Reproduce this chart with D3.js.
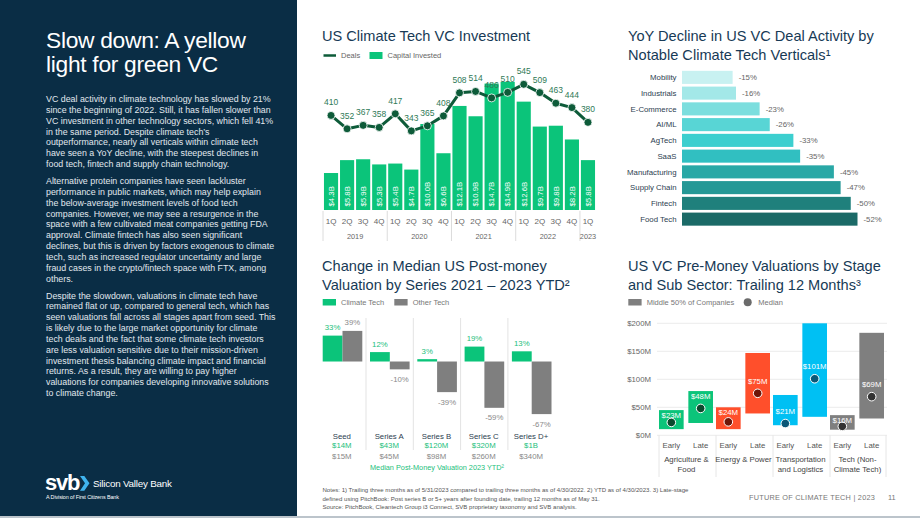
<!DOCTYPE html>
<html>
<head>
<meta charset="utf-8">
<script src="https://cdn.jsdelivr.net/npm/d3@7"></script>
<style>
html, body {margin: 0; padding: 0; background: #fff;}
svg text {font-family: "Liberation Sans", Arial, sans-serif;}
</style>
</head>
<body>
<svg id="chart" width="920" height="518"></svg>
<script>
// ---- data: US Climate Tech VC Investment
const quarters = ['1Q','2Q','3Q','4Q','1Q','2Q','3Q','4Q','1Q','2Q','3Q','4Q','1Q','2Q','3Q','4Q','1Q'];
const years = ['2019','2020','2021','2022','2023'];
const capitalInvested = [4.3, 5.8, 5.9, 5.3, 5.4, 4.7, 10.0, 6.6, 12.1, 10.9, 14.7, 14.9, 12.6, 9.7, 9.8, 8.2, 5.8];
const deals = [410, 352, 367, 358, 417, 343, 365, 408, 508, 514, 486, 510, 545, 509, 463, 444, 380];

// ---- data: YoY decline by vertical
const verticals = ['Mobility','Industrials','E-Commerce','AI/ML','AgTech','SaaS','Manufacturing','Supply Chain','Fintech','Food Tech'];
const yoyDecline = [-15, -16, -23, -26, -33, -35, -45, -47, -50, -52];

// ---- data: change in median post-money valuation
const series = ['Seed','Series A','Series B','Series C','Series D+'];
const climateChange = [33, 12, 3, 19, 13];
const otherChange = [39, -10, -39, -59, -67];
const climateMedian = ['$14M','$43M','$120M','$320M','$1B'];
const otherMedian = ['$15M','$45M','$98M','$260M','$340M'];

// ---- data: pre-money valuations by stage and sub sector
const sectors = ['Agriculture & Food','Energy & Power','Transportation and Logistics','Tech (Non-Climate Tech)'];
const sectorLabels = [['Agriculture &','Food'],['Energy & Power'],['Transportation','and Logistics'],['Tech (Non-','Climate Tech)']];
const stages = ['Early','Late'];
const valLow = [11, 22, 11, 39, 18, 33, 10, 30];
const valHigh = [45, 79, 50, 147, 72, 200, 36, 183];
const valMedian = [23, 48, 24, 75, 21, 101, 16, 69];
const valTicks = [0, 50, 100, 150, 200];

// ---- style
const navy = '#0a2d45';
const titleColor = '#173a56';
const green = '#0bc47a';
const darkGreen = '#0d5b39';
const gray = '#7f7f7f';
const tealShades = ['#c8f1f1','#a3e8e8','#7cdede','#58d5d5','#3ccfcf','#31bfc1','#29a8a6','#259896','#1f807c','#1b6a67'];
const sectorFill = ['#0bc47a','#ff4f2b','#00c0f3','#7f7f7f'];
const sectorDot = ['#0b4a2e','#6e1508','#0a5878','#333333'];

const svg = d3.select('#chart');

// ================= left panel
svg.append('rect').attr('x', 0).attr('y', 0).attr('width', 297).attr('height', 516).attr('fill', navy);

const headline = ['Slow down: A yellow', 'light for green VC'];
svg.append('g').selectAll('text').data(headline).enter().append('text')
    .attr('x', 46).attr('y', (d, i) => 47.5 + i * 24.5)
    .attr('fill', '#fff').attr('font-size', 22.8).attr('letter-spacing', -0.3)
    .text(d => d);

const paragraphs = [
    ['VC deal activity in climate technology has slowed by 21%',
     'since the beginning of 2022. Still, it has fallen slower than',
     'VC investment in other technology sectors, which fell 41%',
     'in the same period. Despite climate tech\u2019s',
     'outperformance, nearly all verticals within climate tech',
     'have seen a YoY decline, with the steepest declines in',
     'food tech, fintech and supply chain technology.'],
    ['Alternative protein companies have seen lackluster',
     'performance in public markets, which may help explain',
     'the below-average investment levels of food tech',
     'companies. However, we may see a resurgence in the',
     'space with a few cultivated meat companies getting FDA',
     'approval. Climate fintech has also seen significant',
     'declines, but this is driven by factors exogenous to climate',
     'tech, such as increased regulator uncertainty and large',
     'fraud cases in the crypto/fintech space with FTX, among',
     'others.'],
    ['Despite the slowdown, valuations in climate tech have',
     'remained flat or up, compared to general tech, which has',
     'seen valuations fall across all stages apart from seed. This',
     'is likely due to the large market opportunity for climate',
     'tech deals and the fact that some climate tech investors',
     'are less valuation sensitive due to their mission-driven',
     'investment thesis balancing climate impact and financial',
     'returns. As a result, they are willing to pay higher',
     'valuations for companies developing innovative solutions',
     'to climate change.']
];
const paraTop = [102, 184, 298.5];
paragraphs.forEach((lines, p) => {
    svg.append('g').selectAll('text').data(lines).enter().append('text')
        .attr('x', 46).attr('y', (d, i) => paraTop[p] + i * 10.85)
        .attr('fill', '#e1e8ee').attr('font-size', 8.85)
        .text(d => d);
});

// logo
svg.append('text').attr('x', 45).attr('y', 490).attr('fill', '#fff')
    .attr('font-size', 22).attr('font-weight', 'bold').attr('letter-spacing', -1.2).text('svb');
svg.append('path').attr('d', 'M80,476 L84.3,476 L89.5,483.3 L84.3,490.7 L80,490.7 L85,483.3 Z').attr('fill', '#3fb4ef');
svg.append('text').attr('x', 93).attr('y', 486.5).attr('fill', '#fff')
    .attr('font-size', 9.8).attr('letter-spacing', -0.2).text('Silicon Valley Bank');
svg.append('text').attr('x', 46).attr('y', 499).attr('fill', '#fff')
    .attr('font-size', 5.4).attr('letter-spacing', -0.1).text('A Division of First Citizens Bank');

// ================= helpers
function title(lines, x, y0) {
    svg.append('g').selectAll('text').data(lines).enter().append('text')
        .attr('x', x).attr('y', (d, i) => y0 + i * 18.6)
        .attr('fill', titleColor).attr('font-size', 14.6)
        .text(d => d);
}

// ================= chart 1: US Climate Tech VC Investment
title(['US Climate Tech VC Investment'], 322, 41);

const lg1 = svg.append('g').attr('font-size', 7.5).attr('fill', '#666');
lg1.append('line').attr('x1', 323.5).attr('x2', 336).attr('y1', 55.5).attr('y2', 55.5)
    .attr('stroke', darkGreen).attr('stroke-width', 2.5);
lg1.append('text').attr('x', 341).attr('y', 58).text('Deals');
lg1.append('rect').attr('x', 369.5).attr('y', 52).attr('width', 13).attr('height', 7).attr('fill', green);
lg1.append('text').attr('x', 387.5).attr('y', 58).text('Capital Invested');

const x1 = d3.scaleBand().domain(d3.range(capitalInvested.length)).range([323, 596])
    .paddingInner(0.12).paddingOuter(0.06);
const yCap = d3.scaleLinear().domain([0, 15]).range([210, 81]);
const yDeals = d3.scaleLinear().domain([0, 545]).range([210, 84.3]);
const bw1 = x1.bandwidth();

const c1 = svg.append('g');
c1.selectAll('.bar').data(capitalInvested).enter().append('rect')
    .attr('x', (d, i) => x1(i)).attr('y', d => yCap(d))
    .attr('width', bw1).attr('height', d => yCap(0) - yCap(d))
    .attr('fill', green);
c1.selectAll('.blab').data(capitalInvested).enter().append('text')
    .attr('transform', (d, i) => `translate(${x1(i) + bw1 / 2 + 2.8},206.5) rotate(-90)`)
    .attr('fill', '#fff').attr('font-size', 7.8)
    .text(d => '$' + d.toFixed(1) + 'B');

// x axis: quarters and years
c1.selectAll('.q').data(quarters).enter().append('text')
    .attr('x', (d, i) => x1(i) + bw1 / 2).attr('y', 224)
    .attr('text-anchor', 'middle').attr('fill', '#666').attr('font-size', 8)
    .text(d => d);
const gapHalf = x1.step() * 0.06;
years.forEach((yr, k) => {
    const first = k * 4, last = Math.min(k * 4 + 3, quarters.length - 1);
    const left = x1(first) - gapHalf;
    c1.append('line').attr('x1', left).attr('x2', left).attr('y1', 211).attr('y2', 241)
        .attr('stroke', '#dcdcdc').attr('stroke-width', 1);
    c1.append('text').attr('x', (x1(first) + x1(last) + bw1) / 2).attr('y', 238.5)
        .attr('text-anchor', 'middle').attr('fill', '#666').attr('font-size', 7.3)
        .text(yr);
});

// deals line
const dealLine = d3.line().x((d, i) => x1(i) + bw1 / 2).y(d => yDeals(d));
c1.append('path').datum(deals).attr('d', dealLine)
    .attr('fill', 'none').attr('stroke', darkGreen).attr('stroke-width', 3).attr('stroke-linejoin', 'round');
c1.selectAll('.dot').data(deals).enter().append('circle')
    .attr('cx', (d, i) => x1(i) + bw1 / 2).attr('cy', d => yDeals(d)).attr('r', 4)
    .attr('fill', darkGreen).attr('stroke', '#fff').attr('stroke-width', 0.8);
c1.selectAll('.dlab').data(deals).enter().append('text')
    .attr('x', (d, i) => x1(i) + bw1 / 2).attr('y', d => yDeals(d) - 10)
    .attr('text-anchor', 'middle').attr('fill', '#2f7a57').attr('font-size', 8.5)
    .text(d => d);

// ================= chart 2: YoY decline by vertical
title(['YoY Decline in US VC Deal Activity by', 'Notable Climate Tech Verticals\u00b9'], 628, 41);

const yV = d3.scaleBand().domain(verticals).range([69.5, 227]).paddingInner(0.17).paddingOuter(0.085);
const xV = d3.scaleLinear().domain([0, 52]).range([682, 857.5]);
const c2 = svg.append('g');
c2.selectAll('rect').data(yoyDecline).enter().append('rect')
    .attr('x', xV(0)).attr('y', (d, i) => yV(verticals[i]))
    .attr('width', d => xV(-d) - xV(0)).attr('height', yV.bandwidth())
    .attr('fill', (d, i) => tealShades[i]);
c2.selectAll('.cat').data(verticals).enter().append('text')
    .attr('x', 676.5).attr('y', d => yV(d) + yV.bandwidth() / 2 + 2.8)
    .attr('text-anchor', 'end').attr('fill', '#2c3e50').attr('font-size', 7.8)
    .text(d => d);
c2.selectAll('.val').data(yoyDecline).enter().append('text')
    .attr('x', d => xV(-d) + 6).attr('y', (d, i) => yV(verticals[i]) + yV.bandwidth() / 2 + 2.8)
    .attr('fill', '#666').attr('font-size', 7.8)
    .text(d => d + '%');

// ================= chart 3: change in median post-money valuation
title(['Change in Median US Post-money', 'Valuation by Series 2021 \u2013 2023 YTD\u00b2'], 322, 271);

const lg3 = svg.append('g').attr('font-size', 7.5).attr('fill', '#777');
lg3.append('rect').attr('x', 322.7).attr('y', 299).attr('width', 13.3).attr('height', 6.5).attr('fill', green);
lg3.append('text').attr('x', 341).attr('y', 305).text('Climate Tech');
lg3.append('rect').attr('x', 394.3).attr('y', 299).attr('width', 13.3).attr('height', 6.5).attr('fill', gray);
lg3.append('text').attr('x', 412.7).attr('y', 305).text('Other Tech');

const xS = d3.scaleBand().domain(series).range([318.7, 555.2]);
const xSub = d3.scaleBand().domain(['climate', 'other']).range([4, 43.6]);
const yS = d3.scaleLinear().domain([-67, 39]).range([414.1, 330.9]);
const c3 = svg.append('g');

series.forEach((s, i) => {
    if (i > 0) {
        c3.append('line').attr('x1', xS(s)).attr('x2', xS(s)).attr('y1', 318).attr('y2', 450)
            .attr('stroke', '#e3e3e3').attr('stroke-width', 1);
    }
});

function changeBars(values, key, fill, labelColor) {
    const bw = xSub.bandwidth();
    c3.selectAll('.b-' + key).data(values).enter().append('rect')
        .attr('x', (d, i) => xS(series[i]) + xSub(key))
        .attr('y', d => Math.min(yS(d), yS(0)))
        .attr('width', bw).attr('height', d => Math.abs(yS(d) - yS(0)))
        .attr('fill', fill);
    c3.selectAll('.l-' + key).data(values).enter().append('text')
        .attr('x', (d, i) => xS(series[i]) + xSub(key) + bw / 2)
        .attr('y', d => d >= 0 ? yS(d) - 5.5 : yS(d) + 12.5)
        .attr('text-anchor', 'middle').attr('fill', labelColor).attr('font-size', 7.8)
        .text(d => d + '%');
}
changeBars(climateChange, 'climate', green, '#23c07c');
changeBars(otherChange, 'other', gray, '#8a8a8a');

const gc = d => xS(d) + xS.bandwidth() / 2 - 0.5;
c3.selectAll('.sn').data(series).enter().append('text')
    .attr('x', gc).attr('y', 438.5).attr('text-anchor', 'middle')
    .attr('fill', '#2c3e50').attr('font-size', 7.8).text(d => d);
c3.selectAll('.cm').data(climateMedian).enter().append('text')
    .attr('x', (d, i) => gc(series[i])).attr('y', 447.5).attr('text-anchor', 'middle')
    .attr('fill', '#23c07c').attr('font-size', 7.8).text(d => d);
c3.selectAll('.om').data(otherMedian).enter().append('text')
    .attr('x', (d, i) => gc(series[i])).attr('y', 459).attr('text-anchor', 'middle')
    .attr('fill', '#888').attr('font-size', 7.8).text(d => d);
c3.append('text').attr('x', 437).attr('y', 469.5).attr('text-anchor', 'middle')
    .attr('fill', '#23c07c').attr('font-size', 7.3).text('Median Post-Money Valuation 2023 YTD\u00b2');

// ================= chart 4: pre-money valuations
title(['US VC Pre-Money Valuations by Stage', 'and Sub Sector: Trailing 12 Months\u00b3'], 628, 271);

const lg4 = svg.append('g').attr('font-size', 7.5).attr('fill', '#777');
lg4.append('rect').attr('x', 628.3).attr('y', 299).attr('width', 13.3).attr('height', 6.5).attr('fill', gray);
lg4.append('text').attr('x', 646.7).attr('y', 305).text('Middle 50% of Companies');
lg4.append('circle').attr('cx', 747.7).attr('cy', 302.3).attr('r', 4).attr('fill', '#6b6b6b');
lg4.append('text').attr('x', 758.3).attr('y', 305).text('Median');

const xSec = d3.scaleBand().domain(sectors).range([659, 887]);
const xStage = d3.scaleBand().domain(stages).range([0, 54]).paddingInner(0.16);
const yM = d3.scaleLinear().domain([0, 200]).range([435.3, 323.3]);
const c4 = svg.append('g');

c4.selectAll('.grid').data(valTicks).enter().append('line')
    .attr('x1', 657).attr('x2', 887).attr('y1', d => yM(d)).attr('y2', d => yM(d))
    .attr('stroke', '#ececec').attr('stroke-width', 1);
c4.selectAll('.tick').data(valTicks).enter().append('text')
    .attr('x', 651).attr('y', d => yM(d) + 2.8).attr('text-anchor', 'end')
    .attr('fill', '#666').attr('font-size', 7.8).text(d => '$' + d + 'M');

const sepX = sectors.map(s => xSec(s)).concat([xSec.range()[1] - 1]);
c4.selectAll('.sep').data(sepX).enter().append('line')
    .attr('x1', d => d).attr('x2', d => d).attr('y1', 435.3).attr('y2', 477)
    .attr('stroke', '#e6e6e6').attr('stroke-width', 1);

const barX = i => xSec(sectors[Math.floor(i / 2)]) + xStage(stages[i % 2]);
const bw4 = xStage.bandwidth();
c4.selectAll('.rng').data(valHigh).enter().append('rect')
    .attr('x', (d, i) => barX(i)).attr('y', d => yM(d))
    .attr('width', bw4).attr('height', (d, i) => yM(valLow[i]) - yM(d))
    .attr('fill', (d, i) => sectorFill[Math.floor(i / 2)]);
c4.selectAll('.med').data(valMedian).enter().append('circle')
    .attr('cx', (d, i) => barX(i) + bw4 / 2).attr('cy', d => yM(d)).attr('r', 4.3)
    .attr('fill', (d, i) => sectorDot[Math.floor(i / 2)]).attr('stroke', '#fff').attr('stroke-width', 1);
c4.selectAll('.mlab').data(valMedian).enter().append('text')
    .attr('x', (d, i) => barX(i) + bw4 / 2)
    .attr('y', (d, i) => Math.max(yM(d) - 9.5, yM(valHigh[i]) + 8))
    .attr('text-anchor', 'middle').attr('fill', '#fff').attr('font-size', 7.8)
    .text(d => '$' + d + 'M');

c4.selectAll('.stg').data(d3.range(valMedian.length)).enter().append('text')
    .attr('x', i => barX(i) + bw4 / 2).attr('y', 448)
    .attr('text-anchor', 'middle').attr('fill', '#555').attr('font-size', 7.8)
    .text(i => stages[i % 2]);
sectors.forEach((s, k) => {
    c4.append('g').selectAll('text').data(sectorLabels[k]).enter().append('text')
        .attr('x', xSec(s) + 27.5).attr('y', (d, j) => 462 + j * 9.8)
        .attr('text-anchor', 'middle').attr('fill', '#444').attr('font-size', 7.8)
        .text(d => d);
});

// ================= footer
const notes = [
    'Notes: 1) Trailing three months as of 5/31/2023 compared to trailing  three months as of 4/30/2022. 2) YTD as of 4/30/2023. 3) Late-stage',
    'defined using PitchBook: Post series B or 5+ years after founding date, trailing 12 months as of May 31.',
    'Source: PitchBook, Cleantech Group i3 Connect, SVB proprietary taxonomy and SVB analysis.'
];
svg.append('g').selectAll('text').data(notes).enter().append('text')
    .attr('x', 322.5).attr('y', (d, i) => 492 + i * 8.7)
    .attr('fill', '#555').attr('font-size', 6.05).text(d => d);
svg.append('text').attr('x', 749).attr('y', 500).attr('fill', '#777')
    .attr('font-size', 7.3).attr('letter-spacing', 0.25).text('FUTURE OF CLIMATE TECH  |  2023');
svg.append('text').attr('x', 888).attr('y', 500).attr('fill', '#777')
    .attr('font-size', 7.4).text('11');
svg.append('rect').attr('x', 0).attr('y', 516).attr('width', 920).attr('height', 2).attr('fill', '#bcc4cb');
</script>
</body>
</html>
